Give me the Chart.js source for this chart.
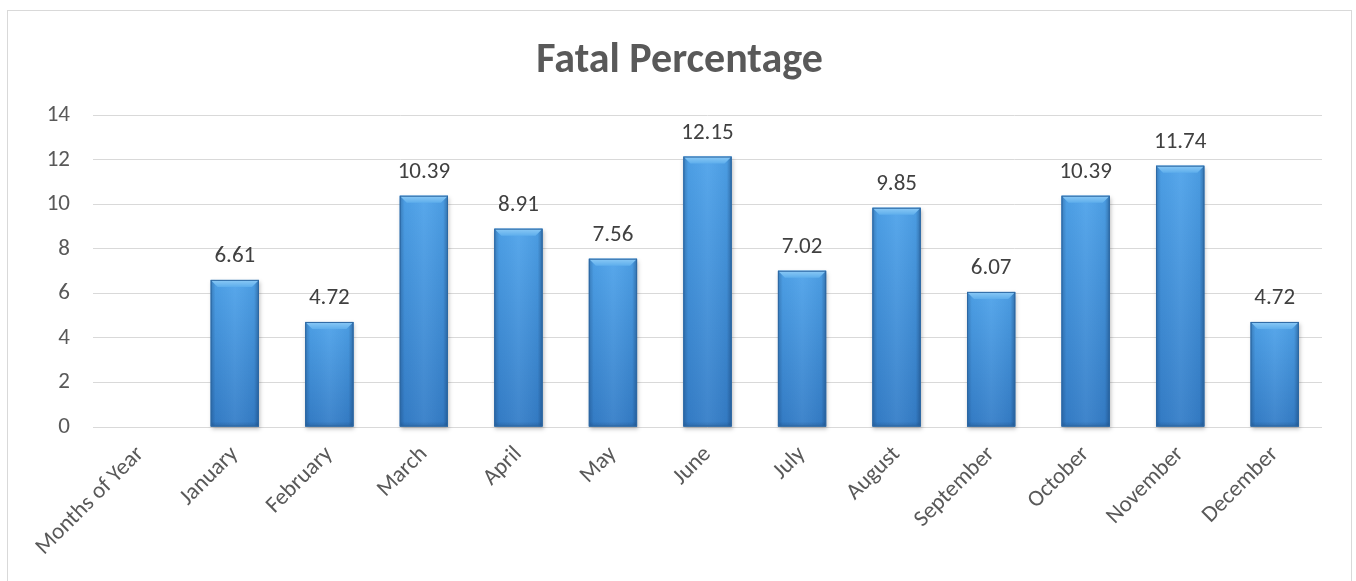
<!DOCTYPE html>
<html>
<head>
<meta charset="utf-8">
<script src="https://cdn.jsdelivr.net/npm/chart.js@4"></script>
<style>
  body { margin: 0; background: #fff; }
  #box { position: absolute; left: 7px; top: 10px; width: 1343px; height: 600px; border: 1px solid #d9d9d9; }
  canvas { display: block; }
</style>
</head>
<body>
<div id="box"><canvas id="chart" width="1343" height="580"></canvas></div>
<script>
// data
const months = ['Months of Year', 'January', 'February', 'March', 'April', 'May', 'June',
                'July', 'August', 'September', 'October', 'November', 'December'];
const fatalPct = [null, 6.61, 4.72, 10.39, 8.91, 7.56, 12.15, 7.02, 9.85, 6.07, 10.39, 11.74, 4.72];
const yTicks = [0, 2, 4, 6, 8, 10, 12, 14];

const FONT = 'Carlito, Lato, sans-serif';

// excel-ish bevelled bars, drawn over the library's bar rectangles
const bevelBars = {
  id: 'bevelBars',
  afterDatasetsDraw(chart) {
    const ctx = chart.ctx;
    chart.getDatasetMeta(0).data.forEach((bar, i) => {
      if (fatalPct[i] == null) return;
      const w = bar.width, l = bar.x - w / 2, r = bar.x + w / 2;
      const t = bar.y, b = bar.base, h = b - t;
      ctx.save();
      // soft shadow
      ctx.shadowColor = 'rgba(0,0,0,0.25)';
      ctx.shadowBlur = 4;
      ctx.shadowOffsetX = 1;
      ctx.shadowOffsetY = 2;
      // body: vertical gradient
      let g = ctx.createLinearGradient(0, t, 0, b);
      g.addColorStop(0, '#4fa3ea');
      g.addColorStop(1, '#357ec8');
      ctx.fillStyle = g;
      ctx.fillRect(l, t, w, h);
      ctx.shadowColor = 'transparent';
      // side shading
      g = ctx.createLinearGradient(l, 0, r, 0);
      g.addColorStop(0, 'rgba(10,40,80,0.3)');
      g.addColorStop(0.1, 'rgba(10,40,80,0.04)');
      g.addColorStop(0.5, 'rgba(255,255,255,0.05)');
      g.addColorStop(0.9, 'rgba(10,40,80,0.06)');
      g.addColorStop(1, 'rgba(10,40,80,0.4)');
      ctx.fillStyle = g;
      ctx.fillRect(l, t, w, h);
      // top bevel
      const bv = 7;
      g = ctx.createLinearGradient(0, t, 0, t + bv);
      g.addColorStop(0, '#8ccaf6');
      g.addColorStop(1, '#5eaeec');
      ctx.fillStyle = g;
      ctx.beginPath();
      ctx.moveTo(l, t);
      ctx.lineTo(r, t);
      ctx.lineTo(r - bv, t + bv);
      ctx.lineTo(l + bv, t + bv);
      ctx.closePath();
      ctx.fill();
      // bottom darkening
      g = ctx.createLinearGradient(0, b - 5, 0, b);
      g.addColorStop(0, 'rgba(10,40,80,0)');
      g.addColorStop(1, 'rgba(10,40,80,0.22)');
      ctx.fillStyle = g;
      ctx.fillRect(l, b - 5, w, 5);
      ctx.strokeStyle = '#2d68a3';
      ctx.lineWidth = 1;
      ctx.strokeRect(l + 0.5, t + 0.5, w - 1, h - 1);
      ctx.restore();
    });
  }
};

// value labels above bars
const valueLabels = {
  id: 'valueLabels',
  afterDatasetsDraw(chart) {
    const ctx = chart.ctx;
    ctx.save();
    ctx.font = '23px ' + FONT;
    ctx.fillStyle = '#404040';
    ctx.textAlign = 'center';
    ctx.textBaseline = 'alphabetic';
    chart.getDatasetMeta(0).data.forEach((bar, i) => {
      if (fatalPct[i] == null) return;
      ctx.fillText(fatalPct[i].toFixed(2), bar.x, bar.y - 18);
    });
    ctx.restore();
  }
};

new Chart(document.getElementById('chart'), {
  type: 'bar',
  data: {
    labels: months,
    datasets: [{
      label: 'Fatal Percentage',
      data: fatalPct,
      backgroundColor: '#3a86d0',
      borderWidth: 0,
      barPercentage: 0.51,
      categoryPercentage: 1.0
    }]
  },
  options: {
    responsive: false,
    animation: false,
    layout: { padding: { left: 29, right: 29, top: 0, bottom: 0 } },
    plugins: {
      legend: { display: false },
      tooltip: { enabled: false },
      title: {
        display: true,
        text: 'Fatal Percentage',
        color: '#595959',
        font: { family: FONT, size: 42, weight: 'bold' },
        padding: { top: 25, bottom: 29 }
      }
    },
    scales: {
      x: {
        grid: { display: false },
        border: { display: false },
        ticks: {
          color: '#595959',
          font: { family: FONT, size: 23 },
          minRotation: 45,
          maxRotation: 45,
          autoSkip: false,
          padding: 6
        },
        afterFit(scale) { scale.height = 164; }
      },
      y: {
        min: 0,
        max: 14,
        afterBuildTicks(scale) { scale.ticks = yTicks.map(v => ({ value: v })); },
        grid: { color: '#d9d9d9', lineWidth: 1, drawTicks: false },
        border: { display: false },
        ticks: {
          color: '#595959',
          font: { family: FONT, size: 23 },
          padding: 23
        },
        afterFit(scale) { scale.width = 56; }
      }
    }
  },
  plugins: [bevelBars, valueLabels]
});
</script>
</body>
</html>
